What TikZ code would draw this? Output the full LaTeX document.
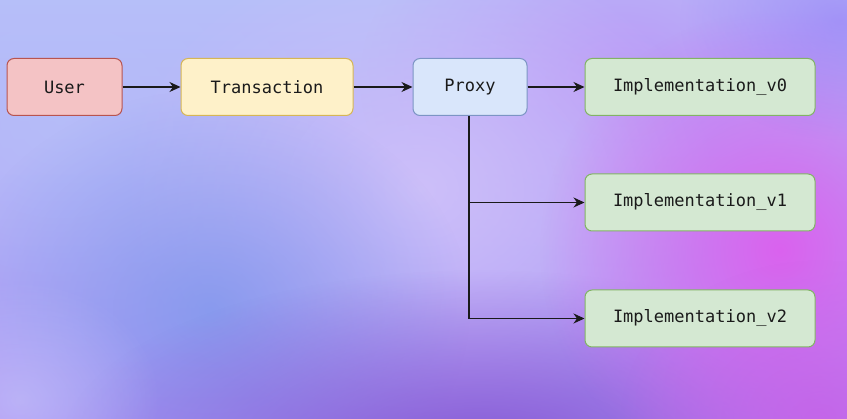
\documentclass[tikz,border=0pt]{standalone}
\usepackage{fontspec}
\setmonofont{DejaVu Sans Mono}
\usetikzlibrary{arrows.meta,fadings}
\definecolor{bgA}{HTML}{B6BFF9}
\definecolor{bgB}{HTML}{B090F5}
\definecolor{magblob}{HTML}{DA62EE}
\definecolor{blueblob}{HTML}{7E98EC}
\definecolor{lightblob}{HTML}{D0C2FA}
\definecolor{darkblob}{HTML}{8257D2}
\definecolor{purpblob}{HTML}{BE8CF6}
\definecolor{redF}{HTML}{F4C3C5}\definecolor{redD}{HTML}{B85450}
\definecolor{yelF}{HTML}{FEF1C9}\definecolor{yelD}{HTML}{D6B656}
\definecolor{bluF}{HTML}{D9E6FB}\definecolor{bluD}{HTML}{7C95C4}
\definecolor{grnF}{HTML}{D4E8D2}\definecolor{grnD}{HTML}{82B366}
\definecolor{inkc}{HTML}{1A1A1A}
\tikzfading[name=blob, inner color=transparent!0, outer color=transparent!100]
\tikzset{
  box/.style={draw, line width=1pt, rounded corners=7pt, minimum height=57pt,
    inner sep=0pt, font=\ttfamily\fontsize{17}{19}\selectfont, text=inkc},
  userbox/.style={box, fill=redF, draw=redD, minimum width=115pt},
  txbox/.style={box, fill=yelF, draw=yelD, minimum width=172pt},
  proxybox/.style={box, fill=bluF, draw=bluD, minimum width=114pt},
  implbox/.style={box, fill=grnF, draw=grnD, minimum width=230pt},
  conn/.style={draw=inkc, line width=1.2pt, -{Stealth[length=11pt,width=10pt,inset=3.5pt]}},
  seg/.style={draw=inkc, line width=1.2pt}
}
\begin{document}
\begin{tikzpicture}[x=1pt,y=-1pt]
\useasboundingbox (0,0) rectangle (847,419);
% background
\shade[left color=bgA, right color=bgB, shading angle=0] (0,0) rectangle (847,419);
\begin{scope}
\clip (0,0) rectangle (847,419);
\fill[bgA, path fading=blob, opacity=0.8] (60,120) ellipse (300 and 260);
\fill[purpblob, path fading=blob, opacity=0.7] (620,80) ellipse (260 and 200);
\fill[lightblob, path fading=blob, opacity=0.9] (420,190) ellipse (300 and 250);
\fill[blueblob, path fading=blob, opacity=0.8] (210,310) ellipse (260 and 220);
\fill[darkblob, path fading=blob, opacity=0.9] (480,450) ellipse (420 and 180);
\fill[magblob, path fading=blob, opacity=1] (780,250) ellipse (240 and 240);
\fill[magblob!80!darkblob, path fading=blob, opacity=0.8] (820,420) ellipse (200 and 160);
\fill[bgB!85!blue, path fading=blob, opacity=0.6] (840,20) ellipse (160 and 120);
\fill[bgA!70!white, path fading=blob, opacity=0.5] (20,400) ellipse (140 and 120);
\end{scope}
% nodes
\node[userbox] (user) at (64.5,87) {User};
\node[txbox] (tx) at (267,87) {Transaction};
\node[proxybox] (proxy) at (470,87) {Proxy};
\node[implbox] (v0) at (700,87) {Implementation\_v0};
\node[implbox] (v1) at (700,202.5) {Implementation\_v1};
\node[implbox] (v2) at (700,318.5) {Implementation\_v2};
\coordinate (split) at (469,202.5);
% connectors
\draw[conn] (user) -- (tx);
\draw[conn] (tx) -- (proxy);
\draw[conn] (proxy) -- (v0);
\draw[seg] (proxy.south -| split) -- (split);
\draw[conn] (split) -- (v1);
\draw[conn] (proxy.south -| split) |- (v2);
\end{tikzpicture}
\end{document}
